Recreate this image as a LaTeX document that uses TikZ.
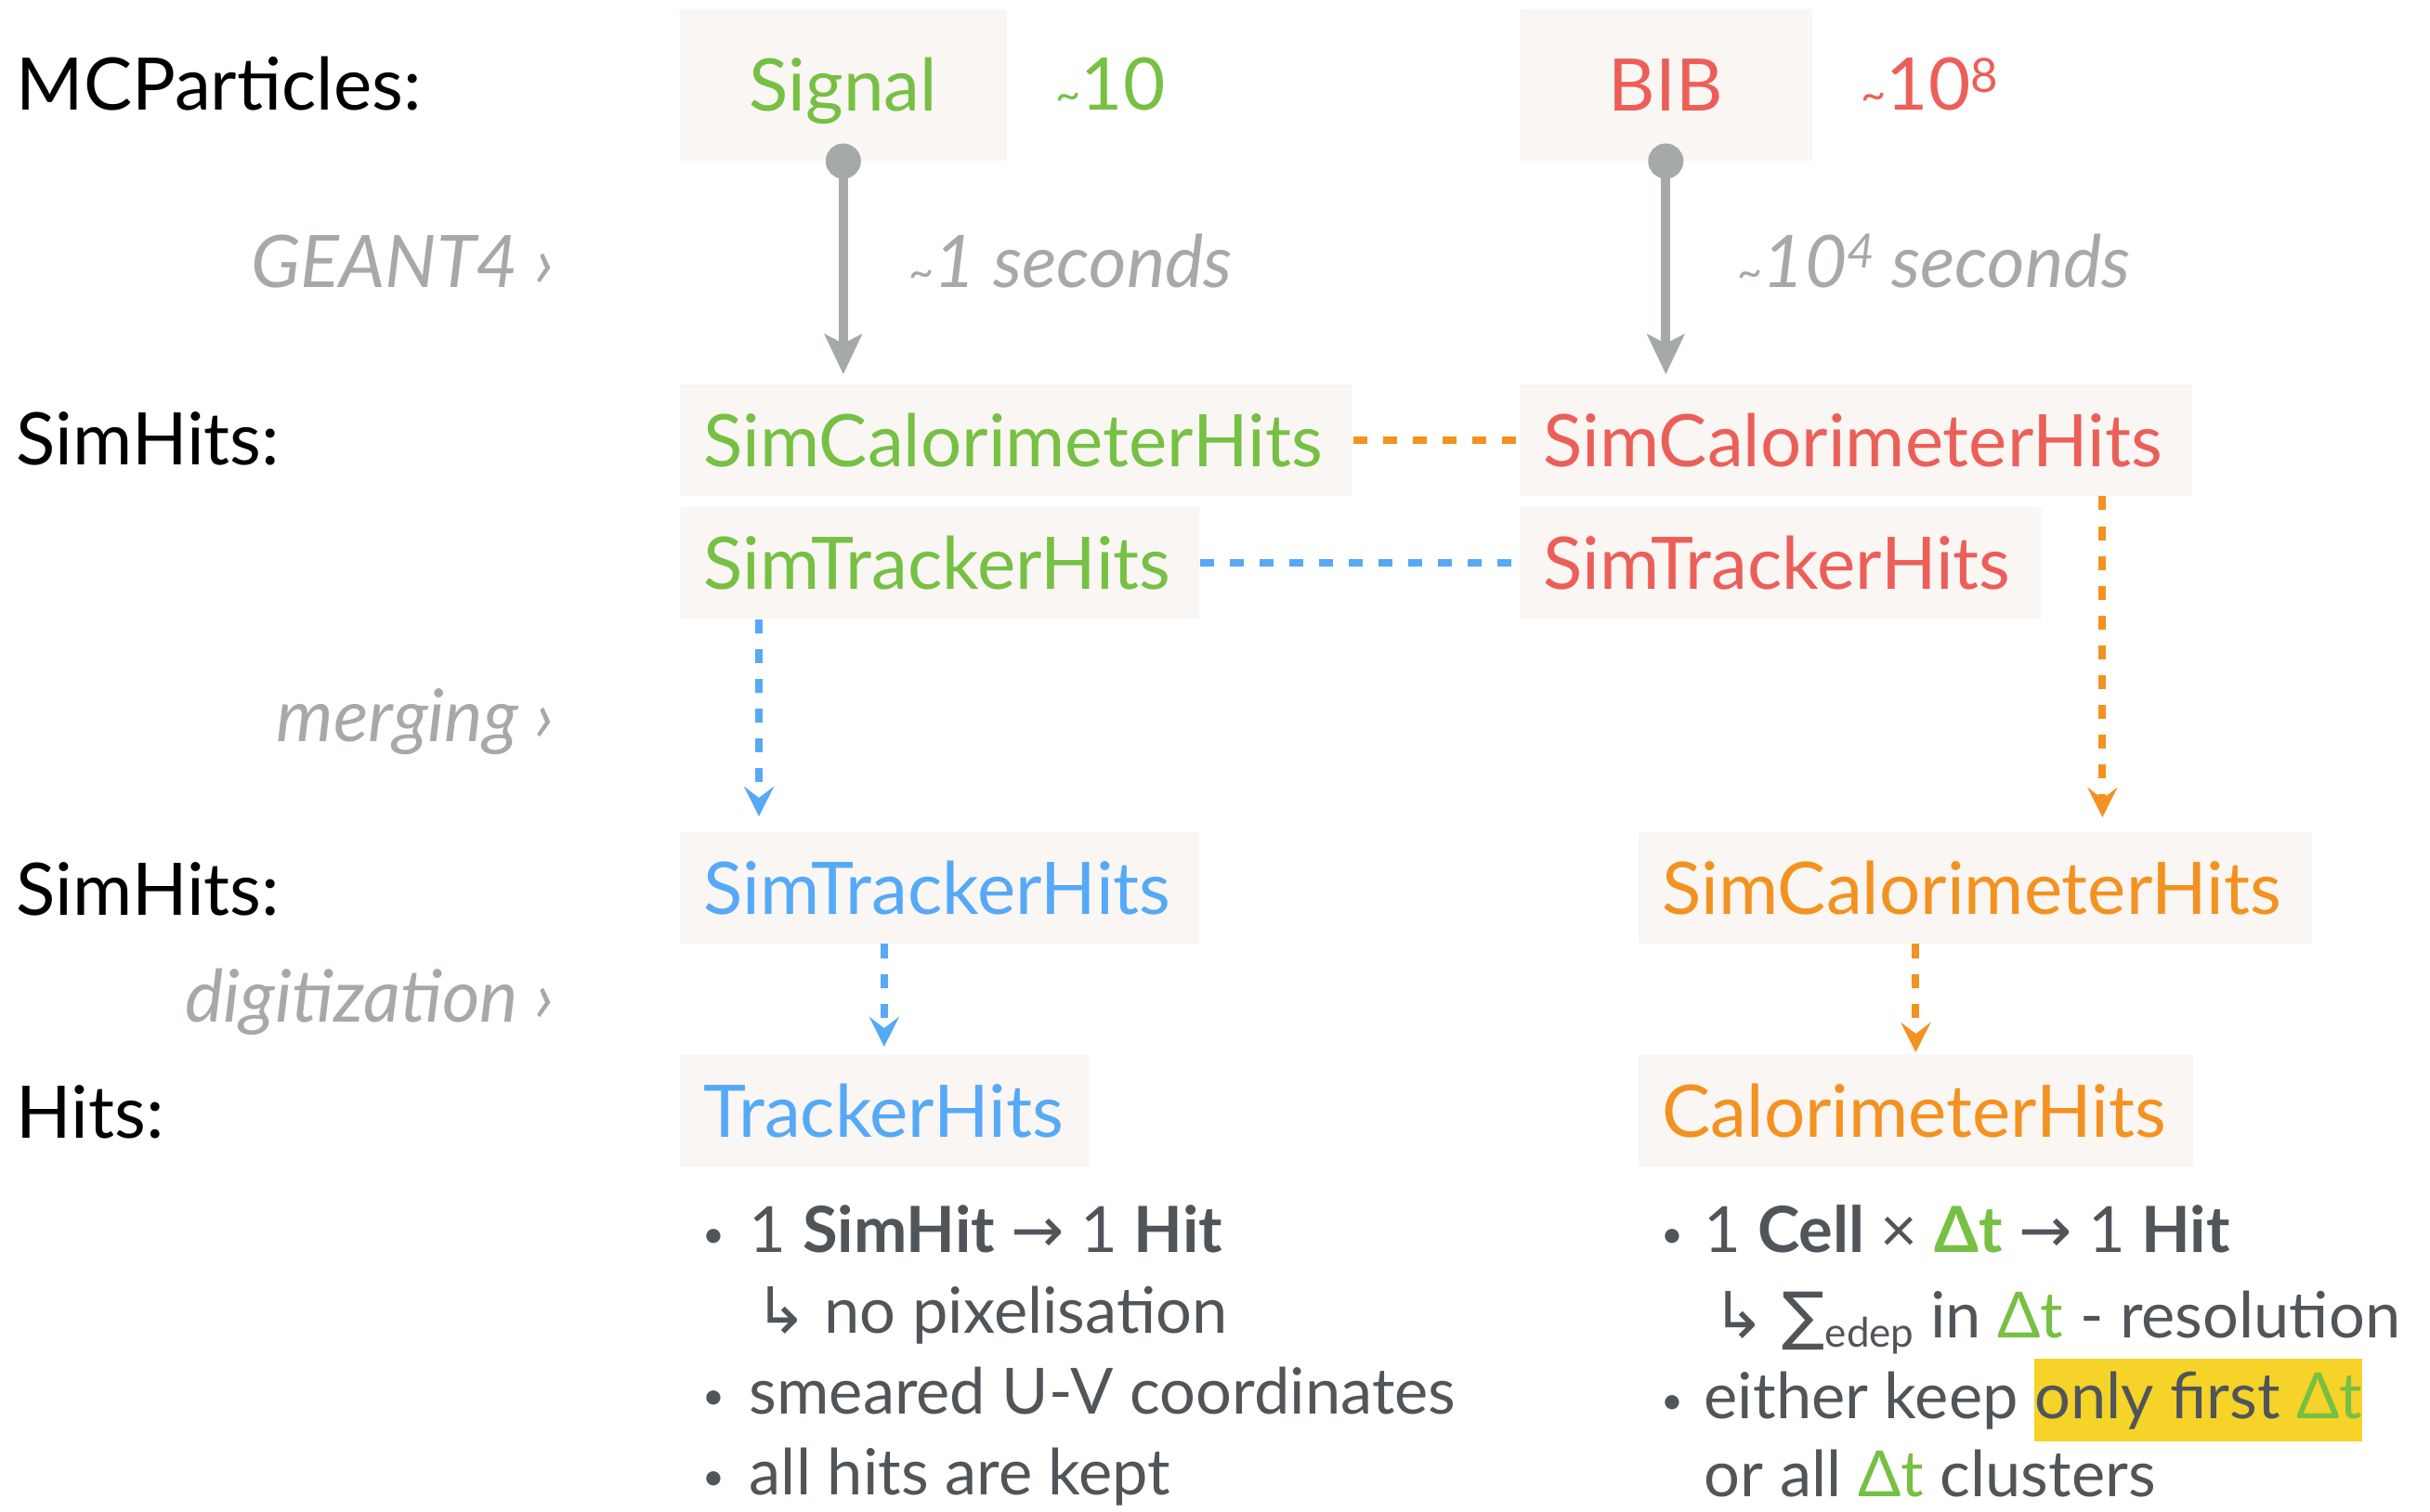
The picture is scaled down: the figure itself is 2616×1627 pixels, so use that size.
\documentclass[tikz,border=0pt]{standalone}
\usepackage{fontspec}
\setmainfont{Lato}
\newfontfamily\dejavu{DejaVu Sans}
\usetikzlibrary{arrows.meta,positioning}

\definecolor{sig}{HTML}{76C043}
\definecolor{bib}{HTML}{EC5F59}
\definecolor{trk}{HTML}{56A9F6}
\definecolor{calo}{HTML}{F39220}
\definecolor{geant}{HTML}{A6A9A9}
\definecolor{boxfill}{HTML}{F9F6F3}
\definecolor{bodytext}{HTML}{50555A}
\definecolor{hilite}{HTML}{F5D328}

\newcommand{\lvlfont}{\fontsize{22.2}{27}\selectfont}
\newcommand{\txtfont}{\fontsize{19.5}{24}\selectfont}
\newcommand{\approxsign}{\scalebox{0.6}{\textasciitilde}}
\newcommand{\expo}[2]{\raisebox{#1}{\fontsize{14.5}{15}\selectfont #2}}
\newcommand{\bul}[1]{\makebox[#1][l]{\raisebox{0.05cm}{\scalebox{0.6}{•}}}}

\begin{document}
\begin{tikzpicture}[x=0.01cm,y=-0.01cm,
	every node/.style={inner sep=0pt},
	level/.style={anchor=base west,font=\lvlfont},
	proclabel/.style={anchor=base east,font=\lvlfont\itshape,text=geant},
	timelabel/.style={anchor=base west,font=\lvlfont\itshape,text=geant},
	coll/.style={fill=boxfill,anchor=north west,font=\lvlfont,minimum height=1.2cm,
		text height=0.57cm,text depth=0pt,inner xsep=0.26cm,align=left},
	source/.style={coll,minimum height=1.63cm,align=center},
	geantarrow/.style={draw=geant,line width=0.1cm,
		{Circle[length=0.38cm]}-{Stealth[length=0.43cm,width=0.4cm,inset=0.1cm]},
		shorten <=-0.19cm,shorten >=0.1cm},
	link/.style={line width=0.08cm,dash pattern=on 0.15cm off 0.17cm},
	mergearrow/.style={link,-{Stealth[length=0.32cm,width=0.32cm,inset=0.12cm]}},
	bullet/.style={anchor=base west,font=\txtfont,text=bodytext}]

	\useasboundingbox (0,0) rectangle (2616,1627);

	% levels of the event data model
	\node[level] (mcp) at (17,118) {MCParticles:};
	\node[level] (simhits) at (17,500) {SimHits:};
	\node[level] (simhits2) at (17,985) {SimHits:};
	\node[level] (hits) at (17,1225) {Hits:};

	% processing steps
	\node[proclabel] (geant4) at (597,309) {GEANT4 ›};
	\node[proclabel] (merging) at (597,798) {merging ›};
	\node[proclabel] (digi) at (597,1100) {digitization ›};

	% MC particles: signal and beam induced background
	\node[source,text width=3.0cm,text=sig] (sig) at (731,9) {Signal};
	\node[source,text width=2.63cm,text=bib] (bib) at (1635,9) {BIB};
	\node[level,text=sig] (nsig) at (1136,118) {\approxsign10};
	\node[level,text=bib] (nbib) at (2003,118) {\approxsign10\expo{0.18cm}{8}};

	% simulated hits of both samples
	\node[coll,text width=6.72cm,text=sig] (gsc) at (731,413) {SimCalorimeterHits};
	\node[coll,text width=6.72cm,text=bib] (rsc) at (1635,413) {SimCalorimeterHits};
	\node[coll,text width=5.07cm,text=sig,below=0.11cm of gsc.south west,anchor=north west] (gst) {SimTrackerHits};
	\node[coll,text width=5.09cm,text=bib,below=0.11cm of rsc.south west,anchor=north west] (rst) {SimTrackerHits};

	% GEANT4 simulation time
	\draw[geantarrow] (sig.south) -- (sig.south |- gsc.north);
	\draw[geantarrow] (bib.south) -- (bib.south |- rsc.north);
	\node[timelabel] (tsig) at (978,309) {\approxsign1 seconds};
	\node[timelabel] (tbib) at (1870,309) {\approxsign10\expo{0.2cm}{4} seconds};

	% overlay
	\draw[link,calo] (gsc) -- (rsc);
	\draw[link,trk] (gst) -- (rst);

	% merged collections
	\node[coll,text width=5.07cm,text=trk] (bst) at (731,895) {SimTrackerHits};
	\node[coll,text width=6.73cm,text=calo] (osc) at (1763,895) {SimCalorimeterHits};
	\draw[mergearrow,trk,shorten >=0.16cm] ([xshift=0.86cm]gst.south west) -- ([xshift=0.86cm]gst.south west |- bst.north);
	\draw[mergearrow,calo,shorten >=0.15cm] ([xshift=6.28cm]rsc.south west) -- ([xshift=6.28cm]rsc.south west |- osc.north);

	% digitised hits
	\node[coll,text width=3.88cm,text=trk] (trkhits) at (731,1135) {TrackerHits};
	\node[coll,text width=5.45cm,text=calo] (calhits) at (1763,1135) {CalorimeterHits};
	\draw[mergearrow,trk,shorten >=0.08cm] (bst.south -| trkhits.north) -- (trkhits.north);
	\draw[mergearrow,calo,shorten >=0.02cm] (osc.south -| calhits.north) -- (calhits.north);

	% tracker digitisation notes
	\node[bullet] (t1) at (756,1348) {\bul{0.5cm}1 \textbf{SimHit} {\dejavu →} 1 \textbf{Hit}};
	\node[bullet] (t2) at (812,1435) {{\dejavu ↳} no pixelisation};
	\node[bullet] (t3) at (756,1522) {\bul{0.5cm}smeared U-V coordinates};
	\node[bullet] (t4) at (756,1609) {\bul{0.5cm}all hits are kept};

	% calorimeter digitisation notes
	\node[bullet] (c1) at (1788,1348) {\bul{0.46cm}1 \textbf{Cell} × \textbf{\textcolor{sig}{Δt}} {\dejavu →} 1 \textbf{Hit}};
	\node[bullet] (c2) at (1843,1440) {{\dejavu ↳} {\dejavu ∑}\raisebox{-0.1cm}{\fontsize{12.5}{13}\selectfont edep} in \textcolor{sig}{Δt} - resolution};
	\node[bullet] (c3) at (1788,1527) {\bul{0.46cm}either keep {\fboxsep=0pt\colorbox{hilite}{\rule[-0.25cm]{0pt}{0.89cm}only first \textcolor{sig}{Δt}}}};
	\node[bullet] (c4) at (1834,1611) {or all \textcolor{sig}{Δt} clusters};

\end{tikzpicture}
\end{document}
